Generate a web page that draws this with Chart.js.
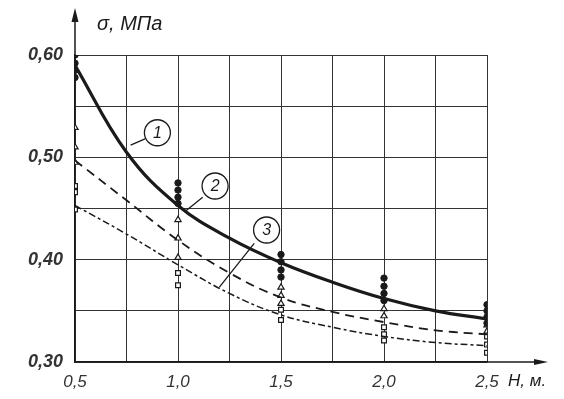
<!DOCTYPE html>
<html>
<head>
<meta charset="utf-8">
<script src="https://cdn.jsdelivr.net/npm/chart.js@4/dist/chart.umd.min.js"></script>
<style>
  html, body { margin: 0; padding: 0; background: #fff; }
  #wrap { width: 564px; height: 399px; position: relative; }
</style>
</head>
<body>
<div id="wrap"><canvas id="c" width="564" height="399"></canvas></div>
<script>
// Depth H, m (curve sample points)
const H_CURVE = [0.5, 0.75, 1.0, 1.25, 1.5, 1.75, 2.0, 2.25, 2.5];
// Fitted curves, sigma MPa
const CURVE_1 = [0.590, 0.505, 0.453, 0.421, 0.397, 0.378, 0.362, 0.350, 0.342];
const CURVE_2 = [0.497, 0.458, 0.419, 0.387, 0.363, 0.349, 0.339, 0.331, 0.327];
const CURVE_3 = [0.453, 0.425, 0.395, 0.367, 0.346, 0.334, 0.325, 0.319, 0.316];

// Measured points at each depth
const H_POINTS = [0.5, 1.0, 1.5, 2.0, 2.5];
const POINTS_1 = [[0.600, 0.592, 0.585, 0.578], [0.475, 0.468, 0.461, 0.455], [0.405, 0.398, 0.390, 0.383], [0.382, 0.374, 0.367, 0.360], [0.356, 0.350, 0.344, 0.338]];
const POINTS_2 = [[0.529, 0.510, 0.495], [0.439, 0.421, 0.402], [0.373, 0.365, 0.357], [0.352, 0.345], [0.336, 0.330]];
const POINTS_3 = [[0.472, 0.466, 0.449], [0.387, 0.375], [0.351, 0.341], [0.334, 0.327, 0.321], [0.325, 0.317, 0.309]];

const Y_LABELS = ['0,30', '0,40', '0,50', '0,60'];
const X_LABELS = ['0,5', '1,0', '1,5', '2,0', '2,5'];
const Y_TITLE = 'σ, МПа';
const X_TITLE = 'H, м.';
const CURVE_NAMES = ['1', '2', '3'];

const FAMILY = '"Liberation Sans", "DejaVu Sans", sans-serif';
const INK = '#1a1a1a';

const curve = (ys) => H_CURVE.map((x, i) => ({ x, y: ys[i] }));
const pts = (groups) => {
	const out = [];
	H_POINTS.forEach((x, i) => groups[i].forEach((y) => out.push({ x, y })));
	return out;
};

// Arrows on the axes, titles and the circled curve numbers
const decor = {
	id: 'decor',
	afterDraw(chart) {
		const { ctx, chartArea: a, scales: { x, y } } = chart;
		ctx.save();
		ctx.strokeStyle = INK;
		ctx.fillStyle = INK;
		ctx.lineWidth = 1.5;
		// y axis arrow
		ctx.beginPath();
		ctx.moveTo(a.left, a.top);
		ctx.lineTo(a.left, 12);
		ctx.stroke();
		ctx.beginPath();
		ctx.moveTo(a.left, 8);
		ctx.lineTo(a.left - 3.5, 22);
		ctx.lineTo(a.left + 3.5, 22);
		ctx.closePath();
		ctx.fill();
		// x axis arrow
		ctx.beginPath();
		ctx.moveTo(a.right, a.bottom);
		ctx.lineTo(542, a.bottom);
		ctx.stroke();
		ctx.beginPath();
		ctx.moveTo(548, a.bottom);
		ctx.lineTo(534, a.bottom - 3);
		ctx.lineTo(534, a.bottom + 3);
		ctx.closePath();
		ctx.fill();
		// titles
		ctx.font = 'italic 20px ' + FAMILY;
		ctx.textBaseline = 'middle';
		ctx.textAlign = 'left';
		ctx.fillText(Y_TITLE, a.left + 22, 24);
		ctx.font = 'italic 17px ' + FAMILY;
		ctx.fillText(X_TITLE, 508, a.bottom + 19);
		// circled numbers with leaders (data coordinates)
		const marks = [
			{ c: [0.90, 0.524], from: [0.84, 0.518], to: [0.77, 0.512] },
			{ c: [1.18, 0.472], from: [1.12, 0.461], to: [1.04, 0.448] },
			{ c: [1.43, 0.429], from: [1.37, 0.416], to: [1.20, 0.373] },
		];
		ctx.lineWidth = 1.3;
		ctx.font = 'italic 16px ' + FAMILY;
		ctx.textAlign = 'center';
		marks.forEach((m, i) => {
			const cx = x.getPixelForValue(m.c[0]);
			const cy = y.getPixelForValue(m.c[1]);
			ctx.beginPath();
			ctx.fillStyle = '#fff';
			ctx.arc(cx, cy, 13, 0, Math.PI * 2);
			ctx.fill();
			ctx.stroke();
			ctx.fillStyle = INK;
			ctx.fillText(CURVE_NAMES[i], cx, cy + 1);
			ctx.beginPath();
			ctx.moveTo(x.getPixelForValue(m.from[0]), y.getPixelForValue(m.from[1]));
			ctx.lineTo(x.getPixelForValue(m.to[0]), y.getPixelForValue(m.to[1]));
			ctx.stroke();
		});
		ctx.restore();
	},
};

new Chart(document.getElementById('c'), {
	type: 'line',
	data: {
		datasets: [
			{ data: curve(CURVE_1), borderColor: INK, borderWidth: 3.2, pointRadius: 0, tension: 0.4 },
			{ data: curve(CURVE_2), borderColor: INK, borderWidth: 1.8, borderDash: [9, 6], pointRadius: 0, tension: 0.4 },
			{ data: curve(CURVE_3), borderColor: INK, borderWidth: 1.5, borderDash: [7, 3, 3, 3], pointRadius: 0, tension: 0.4 },
			{ type: 'scatter', data: pts(POINTS_1), pointStyle: 'circle', pointRadius: 3.2, backgroundColor: INK, borderColor: INK, borderWidth: 1 },
			{ type: 'scatter', data: pts(POINTS_2), pointStyle: 'triangle', pointRadius: 3.6, backgroundColor: '#fff', borderColor: INK, borderWidth: 1.2 },
			{ type: 'scatter', data: pts(POINTS_3), pointStyle: 'rect', pointRadius: 3.4, backgroundColor: '#fff', borderColor: INK, borderWidth: 1.2 },
		],
	},
	options: {
		responsive: false,
		animation: false,
		layout: { padding: { top: 55, right: 77, bottom: 0, left: 0 } },
		plugins: { legend: { display: false }, tooltip: { enabled: false } },
		scales: {
			x: {
				type: 'linear', min: 0.5, max: 2.5,
				afterFit: (s) => { s.height = 37; },
				border: { color: INK, width: 1.5 },
				grid: { color: '#333', lineWidth: 1, drawTicks: false },
				ticks: {
					stepSize: 0.25, padding: 10, color: '#333', font: { family: FAMILY, size: 17, style: 'italic' },
					callback: (v) => {
						const k = Math.round(v * 100);
						return k % 50 === 0 ? X_LABELS[(k - 50) / 50] : '';
					},
				},
			},
			y: {
				type: 'linear', min: 0.30, max: 0.60,
				afterFit: (s) => { s.width = 75; },
				border: { color: INK, width: 1.5 },
				grid: { color: '#333', lineWidth: 1, drawTicks: false },
				ticks: {
					stepSize: 0.05, padding: 12, color: '#333', font: { family: FAMILY, size: 18, style: 'italic', weight: 'bold' },
					callback: (v) => {
						const k = Math.round(v * 100);
						return k % 10 === 0 ? Y_LABELS[(k - 30) / 10] : '';
					},
				},
			},
		},
	},
	plugins: [decor],
});
</script>
</body>
</html>
